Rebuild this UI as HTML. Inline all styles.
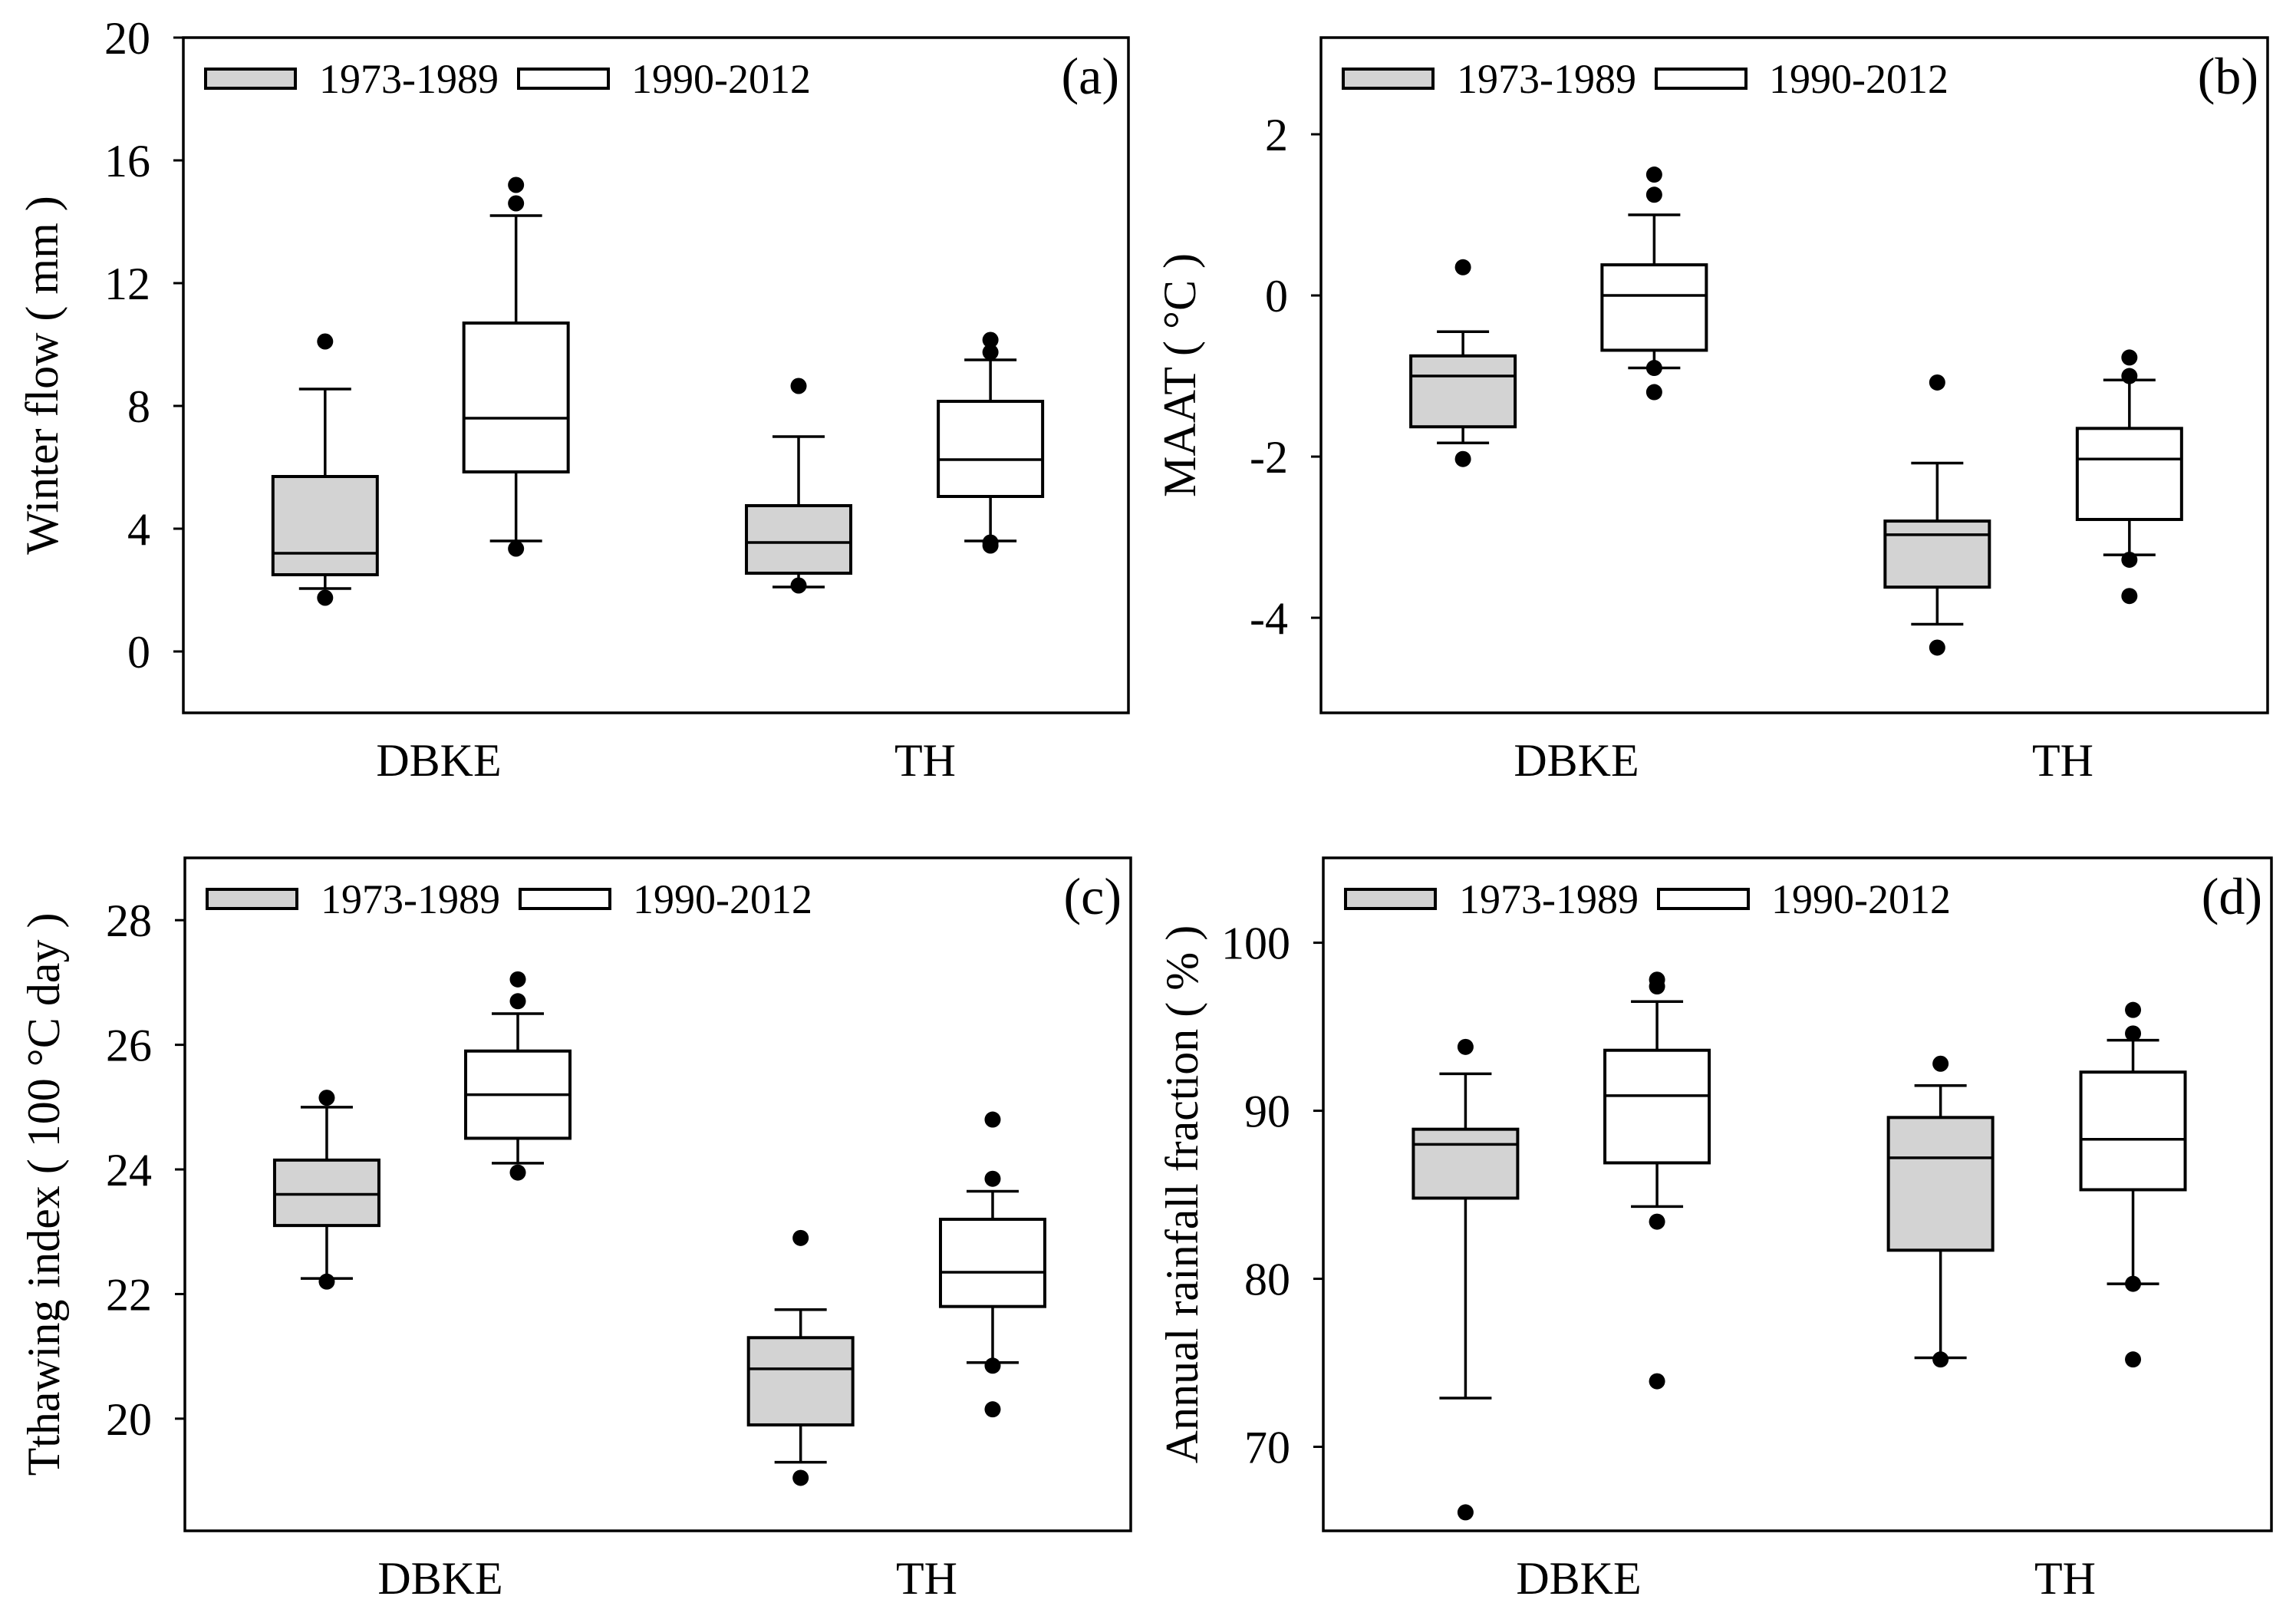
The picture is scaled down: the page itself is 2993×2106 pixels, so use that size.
<!DOCTYPE html>
<html><head><meta charset="utf-8"><style>
html,body{margin:0;padding:0;background:#fff}
svg{display:block}
text{font-family:"Liberation Serif","Noto Serif CJK SC",serif;fill:#000}
</style></head><body>
<svg id="fig" width="2993" height="2106" viewBox="0 0 2993 2106" xmlns="http://www.w3.org/2000/svg">
<rect x="0" y="0" width="2993" height="2106" fill="#fff"/>
</svg>
<script>
// ---------- data (order: DBKE 1973-1989, DBKE 1990-2012, TH 1973-1989, TH 1990-2012) ----------
const categories = ["DBKE", "TH"];
const seriesNames = ["1973-1989", "1990-2012"];

const aTicks = [0, 4, 8, 12, 16, 20];
const aQ1 = [2.5, 5.85, 2.55, 5.05];
const aMed = [3.2, 7.6, 3.55, 6.25];
const aQ3 = [5.7, 10.7, 4.75, 8.15];
const aWLo = [2.05, 3.6, 2.1, 3.6];
const aWHi = [8.55, 14.2, 7.0, 9.5];
const aOut = [[10.1, 1.75], [15.2, 14.6, 3.35], [8.65, 2.15], [10.15, 9.75, 3.55, 3.45]];

const bTicks = [-4, -2, 0, 2];
const bQ1 = [-1.63, -0.68, -3.62, -2.78];
const bMed = [-1.0, 0.0, -2.97, -2.03];
const bQ3 = [-0.75, 0.38, -2.8, -1.65];
const bWLo = [-1.83, -0.9, -4.08, -3.22];
const bWHi = [-0.45, 1.0, -2.08, -1.05];
const bOut = [[0.35, -2.03], [1.5, 1.25, -0.9, -1.2], [-1.08, -4.37], [-0.77, -1.0, -3.28, -3.73]];

const cTicks = [20, 22, 24, 26, 28];
const cQ1 = [23.1, 24.5, 19.9, 21.8];
const cMed = [23.6, 25.2, 20.8, 22.35];
const cQ3 = [24.15, 25.9, 21.3, 23.2];
const cWLo = [22.25, 24.1, 19.3, 20.9];
const cWHi = [25.0, 26.5, 21.75, 23.65];
const cOut = [[25.15, 22.2], [27.05, 26.7, 23.95], [22.9, 19.05], [24.8, 23.85, 20.85, 20.15]];

const dTicks = [70, 80, 90, 100];
const dQ1 = [84.8, 86.9, 81.7, 85.3];
const dMed = [88.0, 90.9, 87.2, 88.3];
const dQ3 = [88.9, 93.6, 89.6, 92.3];
const dWLo = [72.9, 84.3, 75.3, 79.7];
const dWHi = [92.2, 96.5, 91.5, 94.2];
const dOut = [[93.8, 66.1], [97.8, 97.4, 83.4, 73.9], [92.8, 75.2], [96.0, 94.6, 79.7, 75.2]];

// ---------- layout ----------
const NS = "http://www.w3.org/2000/svg";
const svg = document.getElementById("fig");
function mk(tag, attrs, parent) {
  const e = document.createElementNS(NS, tag);
  for (const k in attrs) e.setAttribute(k, attrs[k]);
  (parent || svg).appendChild(e);
  return e;
}
const boxFrac = [0.150, 0.352, 0.651, 0.854];
const boxW = 136;

function drawPanel(p) {
  const g = mk("g", {});
  
  
  const W = p.x1 - p.x0;
  const y = v => p.y1 - (v - p.yMin) / (p.yMax - p.yMin) * (p.y1 - p.y0);
  const xc = i => p.x0 + boxFrac[i] * W;

  for (let i = 0; i < 4; i++) {
    const bg = mk("g", {}, g);
    
    
    const cx = xc(i);
    const st = {stroke: "#000", "stroke-width": 3.5, fill: "none"};
    mk("line", Object.assign({x1: cx, x2: cx, y1: y(p.q3[i]), y2: y(p.wHi[i])}, st), bg);
    mk("line", Object.assign({x1: cx, x2: cx, y1: y(p.q1[i]), y2: y(p.wLo[i])}, st), bg);
    mk("line", Object.assign({x1: cx - boxW / 4, x2: cx + boxW / 4, y1: y(p.wHi[i]), y2: y(p.wHi[i])}, st), bg);
    mk("line", Object.assign({x1: cx - boxW / 4, x2: cx + boxW / 4, y1: y(p.wLo[i]), y2: y(p.wLo[i])}, st), bg);
    mk("rect", {x: cx - boxW / 2, y: y(p.q3[i]), width: boxW, height: y(p.q1[i]) - y(p.q3[i]),
      fill: i % 2 === 0 ? "#d3d3d3" : "#fff", stroke: "#000", "stroke-width": 4}, bg);
    mk("line", Object.assign({x1: cx - boxW / 2, x2: cx + boxW / 2, y1: y(p.med[i]), y2: y(p.med[i])}, st), bg);
    p.out[i].forEach(v => {
      const c = mk("ellipse", {cx: cx, cy: y(v), rx: 10.5, ry: 10.5, fill: "#000"}, bg);
      
      
    });
  }

  const fr = mk("rect", {x: p.x0, y: p.y0, width: W, height: p.y1 - p.y0, fill: "none", stroke: "#000", "stroke-width": 3.5}, g);
  
  

  p.ticks.forEach(v => {
    const ty = y(v);
    const tl = mk("line", {x1: p.x0 - 13, x2: p.x0, y1: ty, y2: ty, stroke: "#000", "stroke-width": 3}, g);
    
    
    const t = mk("text", {x: p.x0 - 43, y: ty + 21, "font-size": 60, "text-anchor": "end"}, g);
    
    
    t.textContent = String(v);
  });

  const ty = (p.y0 + p.y1) / 2;
  const tx = p.x0 - 164;
  const yt = mk("text", {x: tx, y: ty, "font-size": 60, "text-anchor": "middle", transform: `rotate(-90 ${tx} ${ty})`}, g);
  
  
  yt.textContent = p.title;

  [333, 967].forEach((dx, k) => {
    const t = mk("text", {x: p.x0 + dx, y: p.y1 + 82, "font-size": 60, "text-anchor": "middle"}, g);
    
    
    t.textContent = categories[k];
  });

  const lg = mk("g", {}, g);
  
  
  [[29, 177, "#d3d3d3"], [437, 584, "#fff"]].forEach((L, k) => {
    const e = mk("g", {}, lg);
    
    
    mk("rect", {x: p.x0 + L[0], y: p.y0 + 41, width: 117, height: 25, fill: L[2], stroke: "#000", "stroke-width": 4}, e);
    const t = mk("text", {x: p.x0 + L[1], y: p.y0 + 72, "font-size": 54}, e);
    t.textContent = seriesNames[k];
  });
  const pl = mk("text", {x: p.x1 - 12, y: p.y0 + 73, "font-size": 68, "text-anchor": "end"}, g);
  
  
  pl.textContent = "(" + p.id + ")";
}

drawPanel({id: "a", x0: 239, x1: 1471, y0: 49, y1: 929, yMin: -2, yMax: 20, ticks: aTicks,
  q1: aQ1, med: aMed, q3: aQ3, wLo: aWLo, wHi: aWHi, out: aOut, title: "Winter flow ( mm )"});
drawPanel({id: "b", x0: 1722, x1: 2956, y0: 49, y1: 929, yMin: -5.18, yMax: 3.2, ticks: bTicks,
  q1: bQ1, med: bMed, q3: bQ3, wLo: bWLo, wHi: bWHi, out: bOut, title: "MAAT ( °C )"});
drawPanel({id: "c", x0: 241, x1: 1474, y0: 1118, y1: 1995, yMin: 18.2, yMax: 29.0, ticks: cTicks,
  q1: cQ1, med: cMed, q3: cQ3, wLo: cWLo, wHi: cWHi, out: cOut, title: "Tthawing index ( 100 °C  day )"});
drawPanel({id: "d", x0: 1725, x1: 2961, y0: 1118, y1: 1995, yMin: 65.0, yMax: 105.05, ticks: dTicks,
  q1: dQ1, med: dMed, q3: dQ3, wLo: dWLo, wHi: dWHi, out: dOut, title: "Annual rainfall fraction ( % )"});
</script>
</body></html>
